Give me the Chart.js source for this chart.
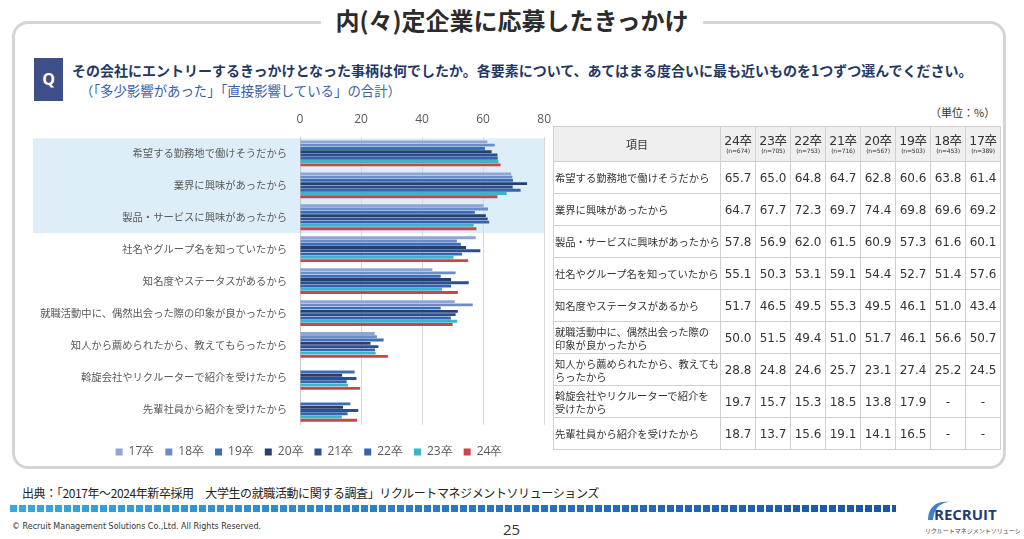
<!DOCTYPE html>
<html lang="ja">
<head>
<meta charset="UTF-8">
<title>内(々)定企業に応募したきっかけ</title>
<script src="https://cdn.jsdelivr.net/npm/chart.js"></script>
<style>
  body { margin: 0; width: 1024px; height: 539px; position: relative; overflow: hidden; background: #fff;
         font-family: "Noto Sans CJK JP", "Noto Sans", sans-serif; color: #333; }
  .abs { position: absolute; }
  .frame { left: 12px; top: 21px; width: 994px; height: 448px; border: 3px solid #d4d4d4; border-radius: 16px; box-sizing: border-box; }
  .title { left: 0; top: 3px; width: 1024px; text-align: center; }
  .title span { background: #fff; padding: 0 14px; font-weight: bold; font-size: 24px; color: #2b2b2b; line-height: 34px; }
  .qbox { left: 34px; top: 58px; width: 29px; height: 43px; background: #3e4f88; color: #fff; font-weight: bold;
          font-size: 16px; line-height: 43px; text-align: center; font-family: "Open Sans", sans-serif; }
  .q1 { left: 72px; top: 60px; font-size: 14px; font-weight: bold; color: #1f3864; white-space: nowrap; }
  .q2 { left: 80px; top: 80px; font-size: 13.4px; color: #3a5fa6; white-space: nowrap; }
  .unit { left: 930px; top: 104px; font-size: 11px; color: #333; }
  table { position: absolute; left: 553px; top: 126px; border-collapse: collapse; }
  td, th { border: 1.5px solid #d0d0d0; padding: 0; }
  th { background: #efefef; font-weight: normal; height: 34px; }
  th.item { width: 166px; font-size: 11px; }
  th.yr { width: 34px; font-family: "DejaVu Sans", sans-serif; font-size: 12.5px; line-height: 13px; letter-spacing: -0.3px; }
  th.yr small { display: block; font-size: 6px; line-height: 8px; letter-spacing: -0.2px; }
  th.yr .k { font-family: "Noto Sans CJK JP"; }
  td { height: 31px; }
  td.lab { font-size: 10.3px; line-height: 13px; padding-left: 1px; white-space: pre; color: #333; }
  td.num { font-family: "DejaVu Sans", sans-serif; font-size: 12px; text-align: center; color: #333; }
  .source { left: 22px; top: 484px; font-size: 12px; color: #222; letter-spacing: -0.4px; white-space: nowrap; }
  .dash { left: 10px; top: 505px; width: 886px; height: 7px;
          background: repeating-linear-gradient(to right, transparent 0 7px, #fff 7px 9px),
                      linear-gradient(to right, #3aa8dc, #2a78c4 50%, #1c54a6); }
  .copy { left: 12px; top: 522px; font-size: 8px; color: #333; font-family: "DejaVu Sans", sans-serif; }
  .page { left: 503px; top: 519px; font-size: 15px; color: #333; font-family: "Open Sans", sans-serif; }
  .logo { left: 920px; top: 496px; }
</style>
</head>
<body>
  <div class="abs frame"></div>
  <div class="abs title"><span>内(々)定企業に応募したきっかけ</span></div>
  <div class="abs qbox">Q</div>
  <div class="abs q1">その会社にエントリーするきっかけとなった事柄は何でしたか。各要素について、あてはまる度合いに最も近いものを1つずつ選んでください。</div>
  <div class="abs q2">（「多少影響があった」「直接影響している」の合計）</div>
  <div class="abs unit">（単位：%）</div>

  <div class="abs" style="left:30px; top:98px;">
    <canvas id="chart" width="532" height="370"></canvas>
  </div>

  <table id="tbl"></table>

  <div class="abs source">出典：「2017年～2024年新卒採用　大学生の就職活動に関する調査」リクルートマネジメントソリューションズ</div>
  <div class="abs dash"></div>
  <div class="abs copy">© Recruit Management Solutions Co.,Ltd. All Rights Reserved.</div>
  <div class="abs page">25</div>
  <div class="abs logo">
    <svg width="100" height="40" viewBox="0 0 100 40">
      <path d="M8 24 C8 10 18 4 30 6 C22 6 14 11 13 24 Z" fill="#3a7fd0"/>
      <text x="14" y="24" font-family="Open Sans, sans-serif" font-weight="bold" font-size="15" fill="#1f3d78">RECRUIT</text>
      <text x="5" y="37" font-family="Noto Sans CJK JP" font-size="6" fill="#444">リクルートマネジメントソリューションズ</text>
    </svg>
  </div>

<script>
  // 項目
  var categories = [
    '希望する勤務地で働けそうだから',
    '業界に興味があったから',
    '製品・サービスに興味があったから',
    '社名やグループ名を知っていたから',
    '知名度やステータスがあるから',
    '就職活動中に、偶然出会った際の印象が良かったから',
    '知人から薦められたから、教えてもらったから',
    '斡旋会社やリクルーターで紹介を受けたから',
    '先輩社員から紹介を受けたから'
  ];
  // 表の項目（改行位置）
  var tableLabels = [
    '希望する勤務地で働けそうだから',
    '業界に興味があったから',
    '製品・サービスに興味があったから',
    '社名やグループ名を知っていたから',
    '知名度やステータスがあるから',
    '就職活動中に、偶然出会った際の\n印象が良かったから',
    '知人から薦められたから、教えても\nらったから',
    '斡旋会社やリクルーターで紹介を\n受けたから',
    '先輩社員から紹介を受けたから'
  ];

  var years = ['17卒', '18卒', '19卒', '20卒', '21卒', '22卒', '23卒', '24卒'];
  var sampleSizes = [389, 453, 503, 567, 716, 753, 705, 674];

  var y17 = [61.4, 69.2, 60.1, 57.6, 43.4, 50.7, 24.5, null, null];
  var y18 = [63.8, 69.6, 61.6, 51.4, 51.0, 56.6, 25.2, null, null];
  var y19 = [60.6, 69.8, 57.3, 52.7, 46.1, 46.1, 27.4, 17.9, 16.5];
  var y20 = [62.8, 74.4, 60.9, 54.4, 49.5, 51.7, 23.1, 13.8, 14.1];
  var y21 = [64.7, 69.7, 61.5, 59.1, 55.3, 51.0, 25.7, 18.5, 19.1];
  var y22 = [64.8, 72.3, 62.0, 53.1, 49.5, 49.4, 24.6, 15.3, 15.6];
  var y23 = [65.0, 67.7, 56.9, 50.3, 46.5, 51.5, 24.8, 15.7, 13.7];
  var y24 = [65.7, 64.7, 57.8, 55.1, 51.7, 50.0, 28.8, 19.7, 18.7];

  var xTicks = [0, 20, 40, 60, 80];

  var series = [y17, y18, y19, y20, y21, y22, y23, y24];
  var colors = ['#8ea5d5', '#6a8dca', '#3c6db7', '#26416f', '#2d4f8b', '#3564ac', '#3fb1c9', '#c9454a'];

  // 表（24卒→17卒の順）
  var tbl = document.getElementById('tbl');
  var head = '<tr><th class="item">項目</th>';
  for (var i = years.length - 1; i >= 0; i--) {
    head += '<th class="yr">' + years[i].replace('卒', '<span class="k">卒</span>') +
            '<small>(n=' + sampleSizes[i] + ')</small></th>';
  }
  head += '</tr>';
  var body = '';
  tableLabels.forEach(function (lab, r) {
    body += '<tr><td class="lab">' + lab + '</td>';
    for (var i = series.length - 1; i >= 0; i--) {
      var v = series[i][r];
      body += '<td class="num">' + (v === null ? '-' : v.toFixed(1)) + '</td>';
    }
    body += '</tr>';
  });
  tbl.innerHTML = head + body;

  // 上位3項目の背景
  var bandPlugin = {
    id: 'band',
    beforeDraw: function (chart) {
      var ys = chart.scales.y, xs = chart.scales.x;
      var step = (ys.bottom - ys.top) / categories.length;
      var top = ys.getPixelForValue(0) - step / 2;
      var bottom = ys.getPixelForValue(2) + step / 2;
      var c = chart.ctx;
      c.save();
      c.fillStyle = '#ddeef8';
      c.fillRect(3, top + 1, xs.right - 3, bottom - top - 1);
      c.restore();
    }
  };

  // 凡例を少し右へ寄せる
  var legendShift = {
    id: 'legendShift',
    afterLayout: function (chart) { chart.legend.left += 38; }
  };

  new Chart(document.getElementById('chart').getContext('2d'), {
    type: 'bar',
    data: {
      labels: categories,
      datasets: series.map(function (d, i) {
        return { label: years[i], data: d, backgroundColor: colors[i],
                 barPercentage: 0.88, categoryPercentage: 0.82 };
      })
    },
    options: {
      indexAxis: 'y',
      responsive: false,
      animation: false,
      layout: { padding: { top: 3, right: 12 } },
      scales: {
        x: {
          position: 'top', min: 0, max: 80,
          afterBuildTicks: function (s) { s.ticks = xTicks.map(function (v) { return { value: v }; }); },
          ticks: { color: '#595959', padding: 11, font: { family: 'Open Sans', size: 12 } },
          grid: { color: '#d9d9d9', drawTicks: false },
          border: { display: false }
        },
        y: {
          afterFit: function (s) { s.width = 270; },
          ticks: { color: '#595959', padding: 5, font: { family: 'Noto Sans CJK JP', size: 10.3 } },
          grid: { display: false },
          border: { color: '#c8c8c8' }
        }
      },
      plugins: {
        legend: {
          position: 'bottom',
          title: { display: true, text: '', font: { size: 1 }, padding: { top: 0, bottom: 9 } },
          labels: { boxWidth: 7, boxHeight: 7, color: '#595959', padding: 11,
                    font: { family: 'Open Sans', size: 12 } }
        },
        tooltip: { enabled: false }
      }
    },
    plugins: [bandPlugin, legendShift]
  });
</script>
</body>
</html>
